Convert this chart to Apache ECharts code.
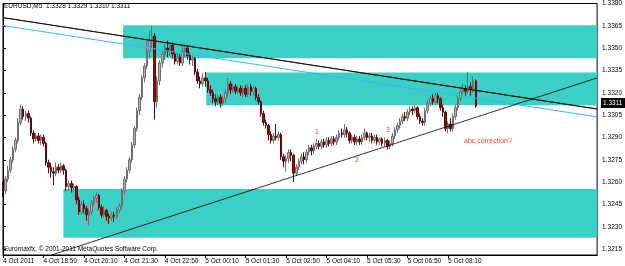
<!DOCTYPE html>
<html>
<head>
<meta charset="utf-8">
<script src="https://cdn.jsdelivr.net/npm/echarts@6/dist/echarts.min.js"></script>
<style>
  html, body { margin: 0; padding: 0; background: #fff; }
  #chart { width: 625px; height: 266px; }
</style>
</head>
<body>
<div id="chart"></div>
<script>
// EURUSD M5, 4 Oct 17:30 -> 5 Oct 09:05 (188 bars), 236 slots on the axis
const slotCount = 236;
const tickEvery = 16;
const tickLabels = ['4 Oct 2011', '4 Oct 18:50', '4 Oct 20:10', '4 Oct 21:30', '4 Oct 22:50',
    '5 Oct 00:10', '5 Oct 01:30', '5 Oct 02:50', '5 Oct 04:10', '5 Oct 05:30',
    '5 Oct 06:50', '5 Oct 08:10'];
const priceTicks = [1.3215, 1.3230, 1.3245, 1.3260, 1.3275, 1.3290, 1.3305, 1.3320,
    1.3335, 1.3350, 1.3365, 1.3380];

const opens = [
    1.3258, 1.3254, 1.3262, 1.3268, 1.3275, 1.3282, 1.3288, 1.3300, 1.3309, 1.3304,
    1.3306, 1.3303, 1.3293, 1.3289, 1.3291, 1.3288, 1.3290, 1.3286, 1.3273, 1.3270,
    1.3267, 1.3266, 1.3270, 1.3268, 1.3271, 1.3268, 1.3257, 1.3259, 1.3256, 1.3257,
    1.3248, 1.3240, 1.3245, 1.3242, 1.3238, 1.3240, 1.3246, 1.3249, 1.3251, 1.3243,
    1.3238, 1.3241, 1.3237, 1.3236, 1.3238, 1.3237, 1.3241, 1.3244, 1.3254, 1.3262,
    1.3268, 1.3275, 1.3285, 1.3296, 1.3308, 1.3317, 1.3330, 1.3338, 1.3348, 1.3355,
    1.3358, 1.3314, 1.3328, 1.3340, 1.3346, 1.3350, 1.3348, 1.3352, 1.3346, 1.3341,
    1.3344, 1.3340, 1.3348, 1.3350, 1.3345, 1.3342, 1.3343, 1.3334, 1.3328, 1.3326,
    1.3330, 1.3328, 1.3322, 1.3320, 1.3316, 1.3314, 1.3317, 1.3313, 1.3316, 1.3320,
    1.3326, 1.3322, 1.3324, 1.3321, 1.3323, 1.3320, 1.3323, 1.3319, 1.3324, 1.3321,
    1.3323, 1.3317, 1.3314, 1.3306, 1.3300, 1.3298, 1.3292, 1.3288, 1.3291, 1.3290,
    1.3292, 1.3277, 1.3274, 1.3276, 1.3280, 1.3278, 1.3266, 1.3270, 1.3274, 1.3277,
    1.3275, 1.3280, 1.3283, 1.3281, 1.3284, 1.3286, 1.3284, 1.3287, 1.3285, 1.3288,
    1.3286, 1.3289, 1.3287, 1.3290, 1.3293, 1.3292, 1.3295, 1.3293, 1.3288, 1.3290,
    1.3287, 1.3289, 1.3287, 1.3290, 1.3293, 1.3290, 1.3291, 1.3288, 1.3290, 1.3287,
    1.3289, 1.3286, 1.3288, 1.3284, 1.3286, 1.3291, 1.3295, 1.3298, 1.3301, 1.3304,
    1.3303, 1.3307, 1.3309, 1.3308, 1.3310, 1.3304, 1.3301, 1.3300, 1.3308, 1.3313,
    1.3316, 1.3314, 1.3318, 1.3316, 1.3310, 1.3307, 1.3296, 1.3299, 1.3296, 1.3304,
    1.3310, 1.3316, 1.3321, 1.3323, 1.3321, 1.3324, 1.3322, 1.3328
];
const closes = [
    1.3254, 1.3262, 1.3268, 1.3275, 1.3282, 1.3288, 1.3300, 1.3309, 1.3304, 1.3306,
    1.3303, 1.3293, 1.3289, 1.3291, 1.3288, 1.3290, 1.3286, 1.3273, 1.3270, 1.3267,
    1.3266, 1.3270, 1.3268, 1.3271, 1.3268, 1.3257, 1.3259, 1.3256, 1.3257, 1.3248,
    1.3240, 1.3245, 1.3242, 1.3238, 1.3240, 1.3246, 1.3249, 1.3251, 1.3243, 1.3238,
    1.3241, 1.3237, 1.3236, 1.3238, 1.3237, 1.3241, 1.3244, 1.3254, 1.3262, 1.3268,
    1.3275, 1.3285, 1.3296, 1.3308, 1.3317, 1.3330, 1.3338, 1.3348, 1.3355, 1.3358,
    1.3314, 1.3328, 1.3340, 1.3346, 1.3350, 1.3348, 1.3352, 1.3346, 1.3341, 1.3344,
    1.3340, 1.3348, 1.3350, 1.3345, 1.3342, 1.3343, 1.3334, 1.3328, 1.3326, 1.3330,
    1.3328, 1.3322, 1.3320, 1.3316, 1.3314, 1.3317, 1.3313, 1.3316, 1.3320, 1.3326,
    1.3322, 1.3324, 1.3321, 1.3323, 1.3320, 1.3323, 1.3319, 1.3324, 1.3321, 1.3323,
    1.3317, 1.3314, 1.3306, 1.3300, 1.3298, 1.3292, 1.3288, 1.3291, 1.3290, 1.3292,
    1.3277, 1.3274, 1.3276, 1.3280, 1.3278, 1.3266, 1.3270, 1.3274, 1.3277, 1.3275,
    1.3280, 1.3283, 1.3281, 1.3284, 1.3286, 1.3284, 1.3287, 1.3285, 1.3288, 1.3286,
    1.3289, 1.3287, 1.3290, 1.3293, 1.3292, 1.3295, 1.3293, 1.3288, 1.3290, 1.3287,
    1.3289, 1.3287, 1.3290, 1.3293, 1.3290, 1.3291, 1.3288, 1.3290, 1.3287, 1.3289,
    1.3286, 1.3288, 1.3284, 1.3286, 1.3291, 1.3295, 1.3298, 1.3301, 1.3304, 1.3303,
    1.3307, 1.3309, 1.3308, 1.3310, 1.3304, 1.3301, 1.3300, 1.3308, 1.3313, 1.3316,
    1.3314, 1.3318, 1.3316, 1.3310, 1.3307, 1.3296, 1.3299, 1.3296, 1.3304, 1.3310,
    1.3316, 1.3321, 1.3323, 1.3321, 1.3324, 1.3322, 1.3328, 1.3311
];
const lows = [
    1.3250, 1.3252, 1.3260, 1.3266, 1.3273, 1.3280, 1.3286, 1.3298, 1.3302, 1.3301,
    1.3300, 1.3291, 1.3286, 1.3287, 1.3286, 1.3285, 1.3284, 1.3271, 1.3266, 1.3263,
    1.3258, 1.3264, 1.3266, 1.3266, 1.3265, 1.3254, 1.3254, 1.3253, 1.3253, 1.3245,
    1.3238, 1.3238, 1.3239, 1.3234, 1.3231, 1.3238, 1.3244, 1.3246, 1.3241, 1.3236,
    1.3236, 1.3234, 1.3232, 1.3234, 1.3233, 1.3235, 1.3239, 1.3242, 1.3252, 1.3260,
    1.3266, 1.3273, 1.3283, 1.3294, 1.3305, 1.3315, 1.3327, 1.3336, 1.3343, 1.3350,
    1.3302, 1.3310, 1.3325, 1.3337, 1.3342, 1.3344, 1.3345, 1.3343, 1.3339, 1.3339,
    1.3338, 1.3338, 1.3344, 1.3342, 1.3339, 1.3338, 1.3332, 1.3326, 1.3323, 1.3324,
    1.3324, 1.3320, 1.3318, 1.3313, 1.3311, 1.3312, 1.3310, 1.3311, 1.3313, 1.3317,
    1.3319, 1.3320, 1.3319, 1.3319, 1.3318, 1.3317, 1.3317, 1.3317, 1.3318, 1.3318,
    1.3315, 1.3312, 1.3304, 1.3298, 1.3296, 1.3288, 1.3286, 1.3286, 1.3288, 1.3288,
    1.3275, 1.3270, 1.3267, 1.3273, 1.3274, 1.3260, 1.3264, 1.3268, 1.3272, 1.3272,
    1.3273, 1.3278, 1.3278, 1.3279, 1.3282, 1.3282, 1.3282, 1.3283, 1.3283, 1.3284,
    1.3284, 1.3285, 1.3285, 1.3288, 1.3290, 1.3290, 1.3290, 1.3286, 1.3286, 1.3285,
    1.3285, 1.3285, 1.3285, 1.3288, 1.3288, 1.3287, 1.3286, 1.3286, 1.3285, 1.3285,
    1.3284, 1.3284, 1.3282, 1.3282, 1.3284, 1.3289, 1.3293, 1.3296, 1.3299, 1.3301,
    1.3301, 1.3305, 1.3305, 1.3306, 1.3302, 1.3299, 1.3298, 1.3298, 1.3306, 1.3311,
    1.3312, 1.3312, 1.3313, 1.3308, 1.3304, 1.3294, 1.3293, 1.3294, 1.3294, 1.3302,
    1.3308, 1.3314, 1.3319, 1.3318, 1.3319, 1.3318, 1.3320, 1.3310
];
const highs = [
    1.3260, 1.3264, 1.3271, 1.3277, 1.3284, 1.3290, 1.3303, 1.3312, 1.3311, 1.3308,
    1.3308, 1.3304, 1.3295, 1.3293, 1.3293, 1.3292, 1.3292, 1.3287, 1.3275, 1.3273,
    1.3270, 1.3273, 1.3272, 1.3273, 1.3272, 1.3269, 1.3261, 1.3261, 1.3259, 1.3258,
    1.3250, 1.3247, 1.3248, 1.3244, 1.3242, 1.3248, 1.3251, 1.3253, 1.3252, 1.3245,
    1.3244, 1.3242, 1.3239, 1.3240, 1.3240, 1.3243, 1.3246, 1.3256, 1.3264, 1.3270,
    1.3277, 1.3287, 1.3298, 1.3310, 1.3319, 1.3332, 1.3340, 1.3356, 1.3362, 1.3365,
    1.3360, 1.3331, 1.3342, 1.3348, 1.3353, 1.3355, 1.3354, 1.3354, 1.3348, 1.3347,
    1.3346, 1.3352, 1.3353, 1.3351, 1.3347, 1.3345, 1.3344, 1.3336, 1.3331, 1.3333,
    1.3334, 1.3330, 1.3325, 1.3322, 1.3319, 1.3319, 1.3319, 1.3318, 1.3322, 1.3330,
    1.3328, 1.3326, 1.3326, 1.3325, 1.3325, 1.3325, 1.3325, 1.3326, 1.3326, 1.3325,
    1.3324, 1.3319, 1.3315, 1.3308, 1.3302, 1.3299, 1.3294, 1.3293, 1.3299, 1.3294,
    1.3293, 1.3279, 1.3278, 1.3282, 1.3282, 1.3279, 1.3272, 1.3276, 1.3279, 1.3280,
    1.3282, 1.3285, 1.3285, 1.3286, 1.3289, 1.3288, 1.3289, 1.3289, 1.3290, 1.3290,
    1.3291, 1.3291, 1.3292, 1.3295, 1.3296, 1.3299, 1.3297, 1.3294, 1.3292, 1.3292,
    1.3291, 1.3291, 1.3292, 1.3296, 1.3294, 1.3293, 1.3293, 1.3292, 1.3292, 1.3290,
    1.3290, 1.3290, 1.3289, 1.3288, 1.3293, 1.3297, 1.3300, 1.3303, 1.3306, 1.3307,
    1.3309, 1.3311, 1.3311, 1.3312, 1.3311, 1.3306, 1.3303, 1.3310, 1.3315, 1.3318,
    1.3319, 1.3320, 1.3320, 1.3317, 1.3312, 1.3308, 1.3301, 1.3303, 1.3306, 1.3312,
    1.3318, 1.3323, 1.3326, 1.3325, 1.3334, 1.3327, 1.3331, 1.3329
];

// drawn objects, in bar-index / price space
const zones = [
    { from: 47.5, top: 1.33654, bottom: 1.33432 },
    { from: 80.4, top: 1.33336, bottom: 1.33117 },
    { from: 23.9, top: 1.32554, bottom: 1.32226 }
];
const resistanceLine = [[0, 1.33705], [235, 1.33091]];
const blueLine = [[0, 1.33652], [235, 1.33038]];
const supportLine = [[19.2, 1.3211], [235, 1.33300]];
const lastBar = { open: 1.3328, high: 1.3329, low: 1.3310, close: 1.3311 };

const chartDom = document.getElementById('chart');
const myChart = echarts.init(chartDom);

const slots = [];
for (let i = 0; i < slotCount; i++) slots.push(i);
const candles = opens.map((o, i) => [o, closes[i], lows[i], highs[i]]);

const font = '"Liberation Sans", Arial, sans-serif';
const noteColor = '#ff3c3c';
// only the time marks that carry a label get a tick
const isTimeTick = (i) => i % tickEvery === 0 && i / tickEvery < tickLabels.length;

function note(text, x, y, color, size) {
    return {
        type: 'text', left: x, top: y, silent: true,
        style: { text: text, fill: color || noteColor, font: (size || 7) + 'px ' + font }
    };
}

const option = {
    animation: false,
    backgroundColor: '#ffffff',
    grid: {
        left: 2, right: 24, top: 0, bottom: 11,
        show: true, borderColor: '#000', borderWidth: 1
    },
    xAxis: [{
        type: 'category',
        data: slots,
        boundaryGap: false,
        axisLine: { lineStyle: { color: '#000', width: 1 } },
        axisTick: {
            length: 3, lineStyle: { color: '#000' },
            interval: isTimeTick
        },
        axisLabel: {
            interval: isTimeTick,
            formatter: (v, i) => tickLabels[i / tickEvery] || '',
            align: 'left', margin: 3, color: '#000',
            fontSize: 6.5, fontFamily: font
        },
        splitLine: { show: false }
    }, {
        type: 'value', min: 0, max: slotCount - 1, show: false
    }],
    yAxis: {
        type: 'value',
        position: 'right',
        min: 1.3211, max: 1.3380,
        axisLine: { show: true, lineStyle: { color: '#000' } },
        axisTick: { show: true, length: 3, customValues: priceTicks, lineStyle: { color: '#000' } },
        axisLabel: {
            customValues: priceTicks,
            formatter: (v) => v.toFixed(4),
            margin: 5, color: '#000', fontSize: 6.5, fontFamily: font
        },
        splitLine: { show: false }
    },
    series: [{
        type: 'line',
        xAxisIndex: 1,
        data: resistanceLine,
        symbol: 'none', silent: true, z: 1,
        lineStyle: { color: '#000', width: 1, opacity: 0.8 },
        markArea: {
            silent: true,
            itemStyle: { color: '#3ccfc6' },
            data: zones.map(z => [{ coord: [z.from, z.top] }, { coord: [slotCount - 1, z.bottom] }])
        }
    }, {
        type: 'candlestick',
        data: candles,
        barWidth: 2,
        z: 3,
        itemStyle: {
            color: '#b4b4b4', borderColor: '#6e6e6e',
            color0: '#b00000', borderColor0: '#5a0a0a', borderWidth: 1
        }
    }, {
        type: 'line',
        xAxisIndex: 1,
        data: resistanceLine,
        symbol: 'none', silent: true, z: 4,
        lineStyle: { color: '#000', width: 1, opacity: 0.75 }
    }, {
        type: 'line',
        xAxisIndex: 1,
        data: blueLine,
        symbol: 'none', silent: true, z: 4,
        lineStyle: { color: '#35b9f0', width: 1 }
    }, {
        type: 'line',
        xAxisIndex: 1,
        data: supportLine,
        symbol: 'none', silent: true, z: 4,
        lineStyle: { color: '#000', width: 1, opacity: 0.8 }
    }],
    graphic: [
        note('EURUSD,M5  ' + [lastBar.open, lastBar.high, lastBar.low, lastBar.close].map(v => v.toFixed(4)).join(' '), 4, 3, '#000', 6.5),
        note('Euromaxfx, \u00a9 2001-2011 MetaQuotes Software Corp.', 4, 246, '#000', 6.5),
        note('Supply', 307, 89),
        note('1', 315, 129),
        note('2', 355, 157),
        note('3', 386, 127),
        note('4', 416, 92),
        note('5?', 430, 86),
        note('abc correction?', 464, 138),
        note('61.8', 133, 215, '#333'),
        {
            type: 'group', left: 601, top: 98, silent: true,
            children: [
                { type: 'rect', shape: { x: 0, y: 0, width: 24, height: 10 }, style: { fill: '#000' } },
                { type: 'text', x: 2, y: 2, style: { text: lastBar.close.toFixed(4), fill: '#fff', font: '6.5px ' + font } }
            ]
        }
    ]
};
myChart.setOption(option);
</script>
</body>
</html>
